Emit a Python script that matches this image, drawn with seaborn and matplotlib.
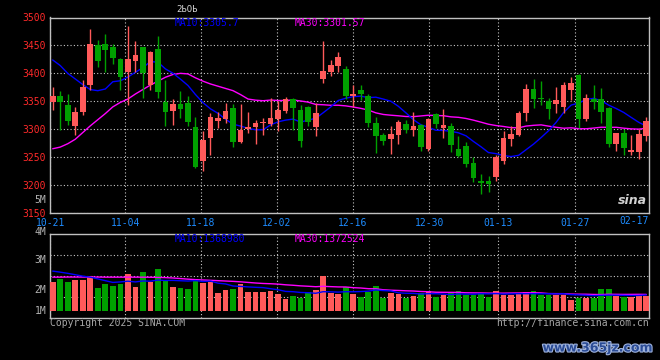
import numpy as np
import pandas as pd
import seaborn as sns
import matplotlib.pyplot as plt
import matplotlib.patheffects as pe

# daily candles 10-21 .. 02-17
opens = [3349.0, 3359.5, 3343.0, 3306.0, 3331.0, 3378.5, 3450.0, 3452.0, 3447.0, 3425.0,
         3402.0, 3423.0, 3447.0, 3378.5, 3443.5, 3349.0, 3333.0, 3345.0, 3346.5, 3304.8,
         3243.5, 3284.0, 3315.0, 3319.0, 3338.7, 3277.4, 3300.0, 3304.0, 3310.7, 3309.0,
         3319.0, 3332.7, 3353.6, 3334.0, 3340.5, 3304.0, 3389.3, 3402.4, 3413.0, 3408.0,
         3360.0, 3369.6, 3359.5, 3311.9, 3289.3, 3282.0, 3290.0, 3309.0, 3298.2, 3307.7,
         3264.3, 3326.8, 3303.0, 3306.0, 3264.3, 3270.2, 3239.3, 3207.7, 3207.7, 3213.7,
         3243.0, 3283.0, 3289.0, 3329.8, 3371.4, 3356.5, 3350.6, 3344.6, 3340.5, 3369.6,
         3397.0, 3319.0, 3354.8, 3354.8, 3338.7, 3273.2, 3292.9, 3259.5, 3260.0, 3288.0]
highs = [3376.0, 3368.5, 3362.5, 3339.0, 3389.0, 3480.0, 3460.5, 3470.0, 3452.0, 3428.0,
         3485.0, 3458.0, 3448.0, 3440.0, 3466.0, 3389.0, 3353.5, 3368.0, 3359.5, 3321.0,
         3297.0, 3329.8, 3330.0, 3346.4, 3344.6, 3344.6, 3331.0, 3316.7, 3319.6, 3355.4,
         3350.6, 3357.7, 3355.0, 3342.9, 3342.0, 3347.6, 3457.7, 3423.2, 3438.0, 3414.0,
         3380.0, 3378.6, 3363.7, 3322.6, 3294.0, 3306.0, 3316.7, 3316.7, 3331.0, 3310.0,
         3320.0, 3329.8, 3335.7, 3310.7, 3288.1, 3278.0, 3249.4, 3219.6, 3216.7, 3254.2,
         3296.0, 3306.0, 3332.7, 3380.4, 3390.5, 3386.3, 3355.4, 3376.0, 3384.5, 3394.0,
         3398.0, 3362.5, 3378.6, 3374.4, 3340.5, 3294.0, 3300.0, 3289.0, 3300.0, 3322.6]
lows = [3334.5, 3299.0, 3307.0, 3289.0, 3325.0, 3371.0, 3411.0, 3402.0, 3417.0, 3370.0,
        3343.0, 3402.0, 3355.0, 3370.0, 3355.0, 3306.0, 3307.0, 3320.0, 3305.0, 3231.0,
        3225.0, 3253.6, 3303.0, 3310.7, 3268.5, 3276.0, 3294.0, 3273.2, 3289.3, 3306.0,
        3297.0, 3329.8, 3298.8, 3267.3, 3306.0, 3288.0, 3383.3, 3395.2, 3402.4, 3354.0,
        3340.0, 3352.4, 3304.8, 3257.0, 3272.0, 3255.4, 3273.2, 3293.0, 3288.0, 3261.3,
        3261.0, 3301.8, 3284.0, 3259.5, 3251.0, 3231.5, 3204.8, 3184.0, 3188.0, 3207.7,
        3238.0, 3270.0, 3288.0, 3315.0, 3337.5, 3342.9, 3319.0, 3329.8, 3328.6, 3352.4,
        3303.0, 3315.0, 3335.7, 3310.7, 3269.0, 3261.3, 3253.6, 3253.6, 3247.0, 3279.0]
closes = [3359.5, 3349.0, 3315.0, 3331.0, 3376.0, 3452.0, 3422.0, 3442.0, 3427.0, 3394.0,
          3425.5, 3433.5, 3400.0, 3438.0, 3367.0, 3331.0, 3345.0, 3336.0, 3313.0, 3231.5,
          3280.5, 3322.6, 3319.6, 3332.7, 3277.4, 3298.2, 3304.0, 3310.7, 3313.0, 3319.6,
          3334.5, 3353.6, 3337.5, 3279.2, 3313.0, 3329.8, 3404.0, 3414.3, 3429.0, 3360.0,
          3363.0, 3362.5, 3310.7, 3287.0, 3279.2, 3291.0, 3313.7, 3298.0, 3306.0, 3268.5,
          3318.0, 3309.0, 3307.1, 3272.0, 3252.4, 3237.5, 3212.0, 3203.6, 3201.8, 3249.4,
          3284.0, 3291.0, 3328.6, 3372.6, 3353.6, 3353.6, 3335.7, 3352.4, 3378.6, 3382.0,
          3319.0, 3356.5, 3348.8, 3331.0, 3273.2, 3292.9, 3265.5, 3263.0, 3291.0, 3315.0]
# volume in millions
volumes = [2.52, 2.75, 2.52, 2.66, 2.66, 3.03, 2.00, 2.32, 2.17, 2.29,
           3.17, 2.09, 3.37, 2.46, 3.63, 2.66, 2.09, 2.00, 1.92, 2.69,
           2.37, 2.46, 1.57, 1.80, 1.86, 2.32, 1.66, 1.66, 1.66, 1.74,
           1.49, 1.03, 1.32, 1.14, 1.66, 1.83, 3.03, 1.52, 1.43, 2.09,
           1.43, 1.23, 1.66, 2.15, 1.14, 1.52, 1.43, 1.14, 1.32, 1.52,
           1.72, 1.23, 1.37, 1.66, 1.72, 1.37, 1.37, 1.52, 1.23, 1.72,
           1.37, 1.37, 1.52, 1.60, 1.72, 1.37, 1.37, 1.37, 1.37, 0.94,
           1.14, 1.14, 1.14, 1.89, 1.89, 1.32, 1.23, 1.23, 1.43, 1.32]

# moving averages at the start depend on days before the window
ma10_head = [3424, 3414, 3400, 3390, 3380, 3371, 3369, 3372, 3385]
ma30_head = [3265, 3268, 3274, 3282, 3294, 3306, 3317, 3328, 3340, 3348,
             3354, 3363, 3371, 3379, 3386, 3393, 3398, 3400, 3399, 3392,
             3386, 3381, 3377, 3373, 3369, 3362, 3354, 3352, 3351]
vma10_head = [3.42, 3.33, 3.23, 3.11, 2.99, 2.90, 2.75, 2.60, 2.45]
vma30_head = [2.90, 2.90, 2.91, 2.91, 2.91, 2.91, 2.91, 2.90, 2.90, 2.90,
              2.90, 2.90, 2.90, 2.89, 2.88, 2.86, 2.83, 2.78, 2.73, 2.69,
              2.66, 2.63, 2.60, 2.57, 2.54, 2.50, 2.45, 2.40, 2.36]

# values printed in the chart's legends
ma_text = ['MA10:3305.7', 'MA30:3301.57']
vma_text = ['MA10:1368980', 'MA30:1372524']

date_labels = ['10-21', '11-04', '11-18', '12-02', '12-16', '12-30', '01-13', '01-27']
last_label = '02-17'

RED = '#ff5a5a'
GREEN = '#00a000'
GRID = '#c8c8c8'

df = pd.DataFrame({'i': np.arange(len(closes)), 'open': opens, 'high': highs,
                   'low': lows, 'close': closes, 'vol': volumes})
df['dir'] = np.where(df['close'] >= df['open'], 'up', 'down')
df['ma10'] = df['close'].rolling(10).mean()
df['ma30'] = df['close'].rolling(30).mean()
df['vma10'] = df['vol'].rolling(10).mean()
df['vma30'] = df['vol'].rolling(30).mean()
df.loc[:len(ma10_head) - 1, 'ma10'] = ma10_head
df.loc[:len(ma30_head) - 1, 'ma30'] = ma30_head
df.loc[:len(vma10_head) - 1, 'vma10'] = vma10_head
df.loc[:len(vma30_head) - 1, 'vma30'] = vma30_head

sns.set_theme(style='dark', rc={'axes.facecolor': 'black', 'figure.facecolor': 'black',
                                'axes.edgecolor': '#c0c0c0', 'axes.linewidth': 1.0})
plt.rcParams['font.family'] = ['DejaVu Sans Mono']

fig = plt.figure(figsize=(6.6, 3.6), dpi=100)
W, H = 660, 360
ax = fig.add_axes([50 / W, 1 - 213 / H, 599 / W, 195.5 / H])
axv = fig.add_axes([50 / W, 1 - 318 / H, 599 / W, 84 / H])

# tick (grid) positions in candle units
tick_pos = [-0.31, 9.66, 19.74, 29.85, 39.96, 50.1, 59.26, 69.46]
xlim = (-0.36, 79.36)

# --- price panel
sns.lineplot(data=df, x='i', y='ma30', color='#ff00ff', lw=1, ax=ax, zorder=2)
sns.lineplot(data=df, x='i', y='ma10', color='#0000ff', lw=1, ax=ax, zorder=2)
cols = np.where(df['dir'] == 'up', RED, GREEN)
ax.vlines(df['i'], df['low'], df['high'], colors=cols, lw=1, zorder=3)
body_lo = np.minimum(df['open'], df['close'])
body_h = np.maximum((df['close'] - df['open']).abs(), 1.8)
ax.bar(df['i'], body_h, bottom=body_lo, width=0.75, color=cols, linewidth=0, zorder=4)

ax.set_xlim(*xlim)
ax.set_ylim(3150, 3500)
ax.set_yticks(np.arange(3150, 3501, 50))
ax.set_xticks(tick_pos)
ax.set_xticklabels(date_labels)
ax.set_xlabel('')
ax.set_ylabel('')
ax.tick_params(axis='y', length=0, pad=3, labelsize=7, labelcolor='#ff2a2a')
ax.tick_params(axis='x', length=0, pad=3.5, labelsize=7, labelcolor='#1e8cff')
ax.grid(True, color=GRID, ls=(0, (1, 2)), lw=0.8)
ax.set_axisbelow(True)

# --- volume panel
sns.barplot(data=df, x='i', y='vol', hue='dir', palette={'up': RED, 'down': GREEN},
            native_scale=True, dodge=False, width=0.75, errorbar=None, legend=False,
            saturation=1, linewidth=0, ax=axv, zorder=3)
sns.lineplot(data=df, x='i', y='vma30', color='#ff00ff', lw=1, ax=axv, zorder=4)
sns.lineplot(data=df, x='i', y='vma10', color='#0000ff', lw=1, ax=axv, zorder=4)
vlo, vhi = -0.60, 6.60
axv.set_xlim(*xlim)
axv.set_ylim(vlo, vhi)
axv.set_yticks(np.linspace(vlo, vhi, 5)[1:-1])
axv.set_xticks(tick_pos)
axv.set_xticklabels([])
axv.set_yticklabels([])
axv.set_xlabel('')
axv.set_ylabel('')
axv.tick_params(length=0)
axv.grid(True, color=GRID, ls=(0, (1, 2)), lw=0.8)
axv.set_axisbelow(True)

def ftext(x, y, s, **kw):
    kw.setdefault('fontsize', 7)
    kw.setdefault('va', 'center')
    fig.text(x / W, 1 - y / H, s, **kw)

ftext(649, 220.5, last_label, color='#1e8cff', ha='right')
ftext(176, 9.5, '2ЬОЬ', color='#d8d8d8', fontsize=6.5)
ftext(175, 23, ma_text[0], color='#0000ff')
ftext(295, 23, ma_text[1], color='#ff00ff')
ftext(175, 238.7, vma_text[0], color='#0000ff')
ftext(295, 238.7, vma_text[1], color='#ff00ff')
ftext(46.5, 200.3, '5M', color='#b4b4b4', ha='right')
for lab, yy in [('4M', 231.5), ('3M', 260), ('2M', 290), ('1M', 310.5)]:
    ftext(46.5, yy, lab, color='#b4b4b4', ha='right')
ftext(50, 323.5, 'Copyright 2025 SINA.COM', color='#a8a8a8')
ftext(649, 323.5, 'http://finance.sina.com.cn', color='#a8a8a8', ha='right')
ftext(632, 200, 'sina', color='#d0d0d0', fontsize=9, fontweight='bold',
      style='italic', ha='center', family='DejaVu Sans')
ftext(652, 348, 'www.365jz.com', color='#2b4c96', fontsize=9, fontweight='bold',
      ha='right', family='DejaVu Sans',
      path_effects=[pe.withStroke(linewidth=1.6, foreground='#9fb3dd')])

fig.savefig('out.png', dpi=100, facecolor='black')
